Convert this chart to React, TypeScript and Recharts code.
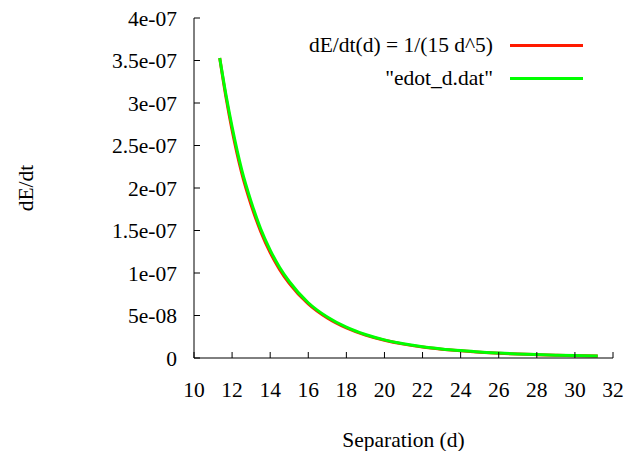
import React from "react";
import { LineChart, Line, XAxis, YAxis, Legend, Label } from "recharts";

const dValues = [11.35, 11.7, 12, 12.5, 13, 13.5, 14, 14.5, 15, 16, 17, 18, 19, 20, 21, 22, 23, 24, 25, 26, 27, 28, 29, 30, 31.2];
const fitValues = [3.53e-7, 3.04e-7, 2.68e-7, 2.18e-7, 1.8e-7, 1.49e-7, 1.24e-7, 1.04e-7, 8.78e-8, 6.36e-8, 4.7e-8, 3.53e-8, 2.69e-8, 2.08e-8, 1.63e-8, 1.29e-8, 1.04e-8, 8.4e-9, 6.8e-9, 5.6e-9, 4.6e-9, 3.9e-9, 3.2e-9, 2.7e-9, 2.3e-9];
const datValues = [3.53e-7, 3.07e-7, 2.72e-7, 2.22e-7, 1.84e-7, 1.52e-7, 1.27e-7, 1.065e-7, 9.0e-8, 6.5e-8, 4.82e-8, 3.62e-8, 2.76e-8, 2.13e-8, 1.67e-8, 1.32e-8, 1.07e-8, 8.7e-9, 7.0e-9, 5.8e-9, 4.8e-9, 4.0e-9, 3.3e-9, 2.8e-9, 2.4e-9];
const xTicks = [10, 12, 14, 16, 18, 20, 22, 24, 26, 28, 30, 32];
const yTicks = [0, 5e-8, 1e-7, 1.5e-7, 2e-7, 2.5e-7, 3e-7, 3.5e-7, 4e-7];
const yTickLabels = ["0", "5e-08", "1e-07", "1.5e-07", "2e-07", "2.5e-07", "3e-07", "3.5e-07", "4e-07"];
const seriesNames = ["dE/dt(d) = 1/(15 d^5)", "\"edot_d.dat\""];
const seriesColors = ["#ff1a00", "#00ff00"];
const xLabel = "Separation (d)";
const yLabel = "dE/dt";

const rows = dValues.map((d, i) => ({ d, fit: fitValues[i], dat: datValues[i] }));

const FONT = "Liberation Serif";
const FS = 21.5;

const LegendBox = () => (
  <div style={{ fontFamily: FONT, fontSize: FS, color: "#000" }}>
    {seriesNames.map((name, i) => (
      <div key={name} style={{ display: "flex", alignItems: "center", height: 33 }}>
        <span style={{ width: 243, textAlign: "right", whiteSpace: "nowrap", lineHeight: "33px" }}>{name}</span>
        <span style={{ marginLeft: 17, width: 73, height: 0, borderTop: `3px solid ${seriesColors[i]}` }} />
      </div>
    ))}
  </div>
);

export default function App() {
  const tickStyle = { fill: "#000", fontSize: FS, fontFamily: FONT };
  return (
    <div style={{ position: "absolute", left: 0, top: 0, background: "#fff" }}>
      <LineChart width={639} height={451} data={rows} margin={{ top: 18, right: 26, bottom: 0, left: 0 }}>
        <XAxis
          xAxisId="b"
          dataKey="d"
          type="number"
          domain={[10, 32]}
          ticks={xTicks}
          interval={0}
          height={93}
          tickSize={-6}
          tickMargin={30}
          axisLine={{ stroke: "#000" }}
          tickLine={{ stroke: "#000" }}
          tick={tickStyle}
          allowDataOverflow
        >
          <Label value={xLabel} position="insideBottom" offset={4} style={{ fill: "#000", fontSize: FS, fontFamily: FONT }} />
        </XAxis>
        <XAxis
          xAxisId="t"
          orientation="top"
          dataKey="d"
          type="number"
          domain={[10, 32]}
          ticks={xTicks}
          interval={0}
          height={0}
          tickSize={-6}
          axisLine={{ stroke: "#000" }}
          tickLine={{ stroke: "#000" }}
          tick={false}
          allowDataOverflow
        />
        <YAxis
          yAxisId="l"
          type="number"
          domain={[0, 4e-7]}
          ticks={yTicks}
          interval={0}
          width={194}
          tickSize={-6}
          tickMargin={23}
          axisLine={{ stroke: "#000" }}
          tickLine={{ stroke: "#000" }}
          tick={tickStyle}
          tickFormatter={(v: number, i: number) => yTickLabels[i]}
          allowDataOverflow
        >
          <Label
            content={() => (
              <text x={33} y={188} transform="rotate(-90 33 188)" textAnchor="middle" fill="#000" fontSize={FS} fontFamily={FONT}>
                {yLabel}
              </text>
            )}
          />
        </YAxis>
        <YAxis
          yAxisId="r"
          orientation="right"
          type="number"
          domain={[0, 4e-7]}
          ticks={yTicks}
          interval={0}
          width={0}
          tickSize={-6}
          axisLine={{ stroke: "#000" }}
          tickLine={{ stroke: "#000" }}
          tick={false}
          allowDataOverflow
        />
        <Line xAxisId="b" yAxisId="l" dataKey="fit" type="monotone" stroke={seriesColors[0]} strokeWidth={3} dot={false} isAnimationActive={false} />
        <Line xAxisId="b" yAxisId="l" dataKey="dat" type="monotone" stroke={seriesColors[1]} strokeWidth={3} dot={false} isAnimationActive={false} />
        <Legend
          layout="vertical"
          align="center"
          verticalAlign="middle"
          wrapperStyle={{ position: "absolute", top: 29, left: 250, width: 340, height: 66 }}
          content={() => <LegendBox />}
        />
      </LineChart>
    </div>
  );
}
